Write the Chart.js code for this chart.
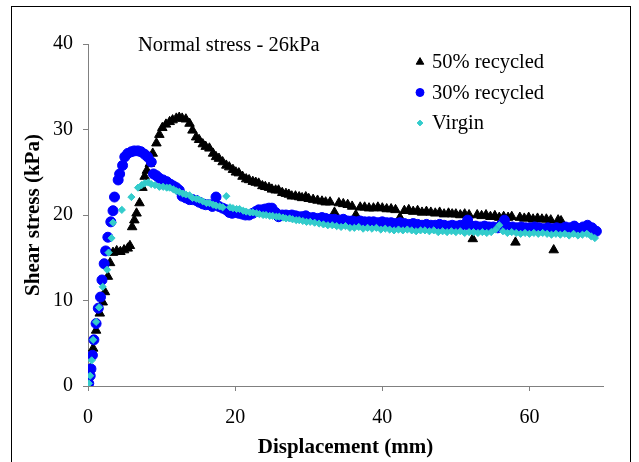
<!DOCTYPE html>
<html>
<head>
<meta charset="utf-8">
<script src="https://cdn.jsdelivr.net/npm/chart.js@4/dist/chart.umd.min.js"></script>
<style>
  body { margin: 0; background: #fff; }
  #wrap { width: 639px; height: 462px; }
</style>
</head>
<body>
<div id="wrap"><canvas id="shearChart" width="639" height="462"></canvas></div>
<script>
const seriesNames = ['50% recycled', '30% recycled', 'Virgin'];
const noteText = 'Normal stress - 26kPa';
const xTicks = [0, 20, 40, 60];
const yTicks = [0, 10, 20, 30, 40];

// 50% recycled
const disp50 = [0, 0.3, 0.7, 1.1, 1.6, 2.0, 2.3, 2.7, 3.0, 3.4,
    3.9, 4.4, 4.9, 5.4, 5.7, 6.0, 6.3, 6.6, 7.0, 7.4,
    7.7, 8.0, 8.4, 8.8, 9.3, 9.7, 10.1, 10.6, 11.1, 11.5,
    12.0, 12.4, 12.8, 13.3, 13.8, 14.2, 14.7, 15.1, 15.6, 16.0,
    16.5, 17.0, 17.4, 17.8, 18.3, 18.8, 19.2, 19.7, 20.1, 20.5,
    21.0, 21.5, 21.9, 22.4, 22.8, 23.2, 23.7, 24.1, 24.6, 25.0,
    25.5, 25.9, 26.4, 26.9, 27.3, 27.7, 28.2, 28.7, 29.1, 29.6,
    30.0, 30.6, 31.2, 31.8, 32.3, 32.9, 33.5, 34.1, 34.7, 35.3,
    35.9, 36.4, 37.0, 37.6, 38.2, 38.8, 39.4, 40.0, 40.6, 41.2,
    41.8, 42.4, 43.0, 43.6, 44.2, 44.8, 45.4, 46.0, 46.6, 47.2,
    47.8, 48.4, 49.0, 49.5, 50.0, 50.6, 51.2, 51.8, 52.3, 52.9,
    53.5, 54.1, 54.7, 55.3, 55.9, 56.5, 57.1, 57.6, 58.1, 58.7,
    59.3, 59.9, 60.5, 61.1, 61.7, 62.3, 62.9, 63.3, 63.9, 64.3];
const shear50 = [0, 2.0, 4.4, 6.5, 8.5, 9.8, 11.0, 12.8, 14.4, 15.6,
    15.8, 15.7, 15.9, 16.1, 16.4, 18.6, 19.4, 20.2, 21.4, 23.2,
    24.5, 25.2, 26.0, 27.2, 28.4, 29.4, 30.2, 30.6, 30.9, 31.1,
    31.3, 31.4, 31.3, 31.2, 30.7, 29.9, 29.1, 28.8, 28.3, 28.0,
    27.8, 27.2, 26.8, 26.6, 26.2, 25.8, 25.6, 25.3, 25.0, 24.9,
    24.5, 24.2, 24.1, 23.9, 23.8, 23.7, 23.4, 23.3, 23.2, 23.0,
    22.9, 22.9, 22.6, 22.5, 22.4, 22.2, 22.2, 22.1, 22.0, 22.1,
    21.9, 21.8, 21.7, 21.6, 21.5, 21.5, 20.3, 21.4, 21.3, 21.2,
    21.0, 20.0, 20.9, 20.9, 20.8, 20.8, 20.9, 20.8, 20.7, 20.7,
    20.6, 19.7, 20.5, 20.6, 20.4, 20.5, 20.3, 20.4, 20.3, 20.2,
    20.3, 20.1, 20.2, 20.1, 20.1, 20.0, 20.1, 20.0, 17.2, 20.0,
    19.9, 20.0, 19.8, 19.9, 19.7, 19.8, 19.7, 19.8, 16.8, 19.7,
    19.6, 19.7, 19.5, 19.6, 19.5, 19.5, 19.4, 15.9, 19.4, 19.3];

// 30% recycled
const disp30 = [0.1, 0.3, 0.4, 0.6, 0.8, 1.1, 1.4, 1.7, 1.9, 2.2,
    2.4, 2.7, 3.1, 3.4, 3.6, 4.1, 4.3, 4.7, 5.0, 5.4,
    5.9, 6.3, 6.8, 7.2, 7.7, 8.1, 8.6, 8.9, 9.3, 9.7,
    10.2, 10.7, 11.2, 11.6, 12.0, 12.4, 12.8, 13.3, 13.8, 14.2,
    14.7, 15.1, 15.6, 16.0, 16.5, 16.9, 17.4, 17.8, 18.3, 18.8,
    19.2, 19.6, 20.1, 20.5, 21.0, 21.4, 21.9, 22.4, 22.8, 23.2,
    23.7, 24.1, 24.6, 25.0, 25.5, 25.9, 26.4, 26.9, 27.3, 27.7,
    28.2, 28.6, 29.1, 29.6, 30.0, 30.6, 31.2, 31.8, 32.3, 32.9,
    33.5, 34.1, 34.7, 35.3, 35.9, 36.4, 37.0, 37.6, 38.2, 38.8,
    39.4, 40.0, 40.6, 41.2, 41.8, 42.4, 43.0, 43.6, 44.2, 44.8,
    45.4, 46.0, 46.6, 47.2, 47.8, 48.4, 49.0, 49.5, 50.0, 50.6,
    51.2, 51.6, 52.1, 52.7, 53.3, 53.9, 54.5, 55.1, 55.7, 56.2,
    56.6, 57.1, 57.7, 58.3, 58.9, 59.5, 60.1, 60.7, 61.3, 61.9,
    62.5, 63.1, 63.7, 64.3, 64.9, 65.5, 66.1, 66.7, 67.3, 67.9,
    68.5, 69.1];
const shear30 = [0.3, 1.2, 2.0, 3.6, 5.4, 7.3, 9.1, 10.4, 12.4, 14.3,
    15.8, 17.4, 19.2, 20.5, 22.1, 24.1, 24.8, 25.8, 26.8, 27.2,
    27.4, 27.5, 27.5, 27.4, 27.1, 26.8, 26.2, 24.8, 24.6, 24.3,
    24.1, 23.9, 23.6, 23.4, 23.2, 22.9, 22.2, 22.0, 21.8, 21.8,
    21.7, 21.5, 21.3, 21.2, 21.2, 21.0, 22.1, 21.0, 20.8, 20.6,
    20.3, 20.2, 20.3, 20.2, 20.1, 20.0, 20.0, 20.2, 20.4, 20.6,
    20.6, 20.7, 20.8, 20.8, 20.3, 19.8, 20.0, 20.0, 19.9, 20.0,
    19.9, 19.8, 19.8, 19.9, 19.7, 19.7, 19.6, 19.7, 19.6, 19.5,
    19.5, 19.4, 19.5, 19.3, 19.3, 19.2, 19.3, 19.2, 19.2, 19.2,
    19.1, 19.2, 19.1, 19.1, 19.0, 19.1, 19.0, 18.9, 19.0, 18.9,
    18.8, 18.9, 18.8, 18.8, 18.9, 18.8, 18.7, 18.8, 18.7, 18.8,
    18.8, 19.4, 18.7, 18.7, 18.6, 18.7, 18.6, 18.6, 18.5, 18.9,
    19.4, 18.6, 18.6, 18.5, 18.6, 18.5, 18.5, 18.6, 18.5, 18.4,
    18.5, 18.4, 18.5, 18.4, 18.6, 18.5, 18.7, 18.4, 18.6, 18.8,
    18.5, 18.1];

// Virgin
const dispVirgin = [0.1, 0.3, 0.5, 0.7, 1.1, 1.5, 2.0, 2.6, 2.8, 3.2,
    3.4, 4.6, 5.9, 6.8, 7.3, 7.7, 8.2, 8.6, 9.1, 9.7,
    10.2, 10.7, 11.1, 11.6, 12.0, 12.4, 12.9, 13.3, 13.8, 14.2,
    14.7, 15.1, 15.6, 16.1, 16.5, 17.0, 17.4, 17.9, 18.3, 18.8,
    19.3, 19.7, 20.2, 20.6, 21.1, 21.5, 22.0, 22.4, 22.9, 23.3,
    23.8, 24.2, 24.7, 25.1, 25.6, 26.0, 26.5, 26.9, 27.4, 27.8,
    28.3, 28.7, 29.2, 29.7, 30.2, 30.8, 31.4, 32.0, 32.6, 33.2,
    33.8, 34.4, 35.0, 35.6, 36.2, 36.8, 37.4, 38.0, 38.6, 39.2,
    39.8, 40.4, 41.0, 41.6, 42.2, 42.8, 43.4, 44.0, 44.6, 45.2,
    45.8, 46.4, 47.0, 47.6, 48.2, 48.8, 49.4, 50.0, 50.6, 51.2,
    51.8, 52.4, 53.0, 53.6, 54.2, 54.8, 55.4, 55.9, 56.4, 57.0,
    57.6, 58.2, 58.8, 59.4, 60.0, 60.6, 61.2, 61.8, 62.4, 63.0,
    63.6, 64.2, 64.8, 65.4, 66.0, 66.6, 67.2, 67.8, 68.4, 68.9];
const shearVirgin = [0.3, 1.2, 3.0, 5.4, 7.5, 9.2, 11.6, 13.6, 15.6, 17.3,
    19.1, 20.6, 22.1, 23.2, 23.5, 23.7, 23.8, 23.6, 23.5, 23.3,
    23.3, 23.2, 23.2, 23.0, 22.8, 22.7, 22.5, 22.4, 22.3, 22.0,
    21.9, 21.8, 21.6, 21.4, 21.4, 21.2, 21.1, 21.0, 20.9, 22.2,
    20.9, 20.8, 20.7, 20.7, 20.5, 20.4, 20.3, 20.3, 20.2, 20.1,
    20.0, 20.0, 19.9, 19.9, 19.8, 19.8, 19.7, 19.6, 19.6, 19.5,
    19.4, 19.4, 19.3, 19.2, 19.2, 19.1, 19.0, 18.9, 18.8, 18.8,
    18.7, 18.6, 18.7, 18.5, 18.5, 18.6, 18.4, 18.5, 18.4, 18.5,
    18.3, 18.4, 18.3, 18.2, 18.3, 18.2, 18.3, 18.2, 18.1, 18.2,
    18.2, 18.1, 18.2, 18.0, 18.1, 18.0, 18.1, 18.0, 18.1, 17.9,
    18.0, 18.0, 17.9, 18.0, 17.9, 18.0, 18.3, 18.8, 18.1, 17.9,
    18.0, 17.9, 17.8, 17.9, 17.8, 17.9, 17.8, 17.9, 17.8, 17.7,
    17.8, 17.7, 17.8, 17.6, 17.8, 17.6, 17.7, 17.8, 17.5, 17.3];

const toPoints = (xs, ys) => xs.map((x, i) => ({ x: x, y: ys[i] }));

const serif = '"Liberation Serif", "Times New Roman", serif';

// frame, note text and legend drawn on the canvas
const extras = {
    id: 'extras',
    beforeDraw(chart) {
        const ctx = chart.ctx;
        ctx.save();
        ctx.fillStyle = '#fff';
        ctx.fillRect(0, 0, chart.width, chart.height);
        ctx.strokeStyle = '#000';
        ctx.lineWidth = 1;
        ctx.strokeRect(11.5, 6.5, 619, 520);
        ctx.restore();
    },
    afterDraw(chart) {
        const ctx = chart.ctx;
        ctx.save();
        ctx.font = '20.5px ' + serif;
        ctx.textBaseline = 'middle';
        ctx.fillStyle = '#000';
        ctx.fillText(noteText, 138, 46);
        chart.data.datasets.forEach((ds, i) => {
            const y = 62 + i * 30.5;
            ctx.fillStyle = ds.backgroundColor;
            ctx.strokeStyle = ds.borderColor;
            ctx.lineWidth = 1;
            Chart.helpers.drawPoint(ctx, {
                pointStyle: ds.pointStyle,
                radius: ds.pointRadius * 0.8,
                rotation: 0,
                borderWidth: 1
            }, 420, y);
            ctx.fillStyle = '#000';
            ctx.fillText(ds.label, 432, y + 1);
        });
        ctx.restore();
    }
};

const ctx = document.getElementById('shearChart').getContext('2d');
const chart = new Chart(ctx, {
    type: 'scatter',
    data: {
        datasets: [
            {
                label: seriesNames[0],
                data: toPoints(disp50, shear50),
                pointStyle: 'triangle',
                pointRadius: 5.5,
                backgroundColor: '#000000',
                borderColor: '#000000',
                borderWidth: 1,
                order: 2
            },
            {
                label: seriesNames[1],
                data: toPoints(disp30, shear30),
                pointStyle: 'circle',
                pointRadius: 5,
                backgroundColor: '#0000ff',
                borderColor: '#0000ff',
                borderWidth: 1,
                order: 1
            },
            {
                label: seriesNames[2],
                data: toPoints(dispVirgin, shearVirgin),
                pointStyle: 'rectRot',
                pointRadius: 3.6,
                backgroundColor: '#33cccc',
                borderColor: '#33cccc',
                borderWidth: 1,
                order: 0
            }
        ]
    },
    options: {
        responsive: false,
        animation: false,
        devicePixelRatio: 1,
        layout: { padding: { top: 44, right: 36, left: 0, bottom: 0 } },
        plugins: {
            legend: { display: false },
            tooltip: { enabled: false }
        },
        scales: {
            x: {
                type: 'linear',
                min: 0,
                max: 70,
                afterFit: (scale) => { scale.height = 76; },
                afterBuildTicks: (scale) => { scale.ticks = xTicks.map(v => ({ value: v })); },
                ticks: { font: { family: serif, size: 20 }, color: '#000', padding: 15 },
                grid: { drawOnChartArea: false, tickLength: 5, color: '#808080' },
                border: { color: '#808080' },
                title: {
                    display: true,
                    text: 'Displacement (mm)',
                    font: { family: serif, size: 21, weight: 'bold' },
                    color: '#000',
                    padding: { top: 0, bottom: 2 }
                }
            },
            y: {
                type: 'linear',
                min: 0,
                max: 40,
                afterFit: (scale) => { scale.width = 88; },
                afterBuildTicks: (scale) => { scale.ticks = yTicks.map(v => ({ value: v })); },
                ticks: { font: { family: serif, size: 20 }, color: '#000', padding: 10 },
                grid: { drawOnChartArea: false, tickLength: 5, color: '#808080' },
                border: { color: '#808080' },
                title: {
                    display: true,
                    text: 'Shear stress (kPa)',
                    font: { family: serif, size: 21, weight: 'bold' },
                    color: '#000',
                    padding: { top: 21 }
                }
            }
        }
    },
    plugins: [extras]
});
</script>
</body>
</html>
